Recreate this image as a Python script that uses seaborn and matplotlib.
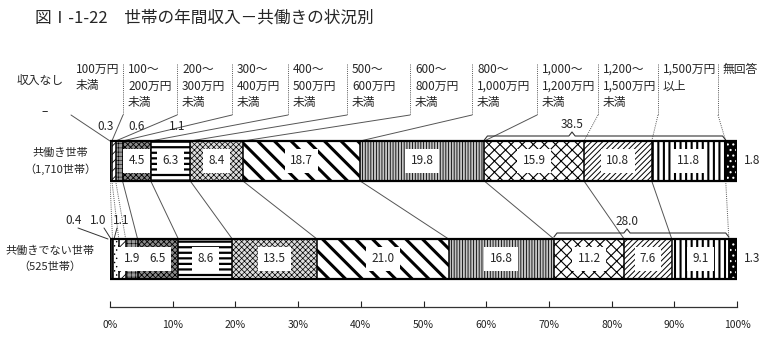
import numpy as np
import pandas as pd
import matplotlib
matplotlib.use("Agg")
import matplotlib.pyplot as plt
import seaborn as sns

# ---- data ----
groups = ["共働き世帯", "共働きでない世帯"]
group_labels = ["共働き世帯\n（1,710世帯）", "共働きでない世帯\n（525世帯）"]
categories = [
    "収入なし", "100万円\n未満", "100〜\n200万円\n未満", "200〜\n300万円\n未満",
    "300〜\n400万円\n未満", "400〜\n500万円\n未満", "500〜\n600万円\n未満",
    "600〜\n800万円\n未満", "800〜\n1,000万円\n未満", "1,000〜\n1,200万円\n未満",
    "1,200〜\n1,500万円\n未満", "1,500万円\n以上", "無回答",
]
dual = [0.0, 0.3, 0.6, 1.1, 4.5, 6.3, 8.4, 18.7, 19.8, 15.9, 10.8, 11.8, 1.8]
single = [0.4, 1.0, 1.1, 1.9, 6.5, 8.6, 13.5, 21.0, 16.8, 11.2, 7.6, 9.1, 1.3]
bracket_totals = [38.5, 28.0]
xticks = list(range(0, 101, 10))
xtick_labels = [f"{t}%" for t in xticks]

# ---- styles per category: face, hatch, hatch linewidth ----
styles = [
    ("#333333", "", 0.5),
    ("white", "....", 0.5),
    ("white", "////", 0.6),
    ("#999999", "++++", 0.4),
    ("#8a8a8a", "xxxxxx", 0.6),
    ("white", "---", 1.6),
    ("#dddddd", "xxxxxx", 0.5),
    ("white", "\\\\", 2.2),
    ("#c4c4c4", "||||||", 0.6),
    ("white", "xxx", 0.8),
    ("white", "//////", 0.7),
    ("white", "|||", 1.5),
    ("black", "...", 0.8),
]

sns.set_theme(style="white")
plt.rcParams["font.family"] = ["Noto Sans CJK JP", "DejaVu Sans"]

W, H = 770, 355
fig = plt.figure(figsize=(W / 100, H / 100), dpi=100)
ax = fig.add_axes([110 / W, (H - 307) / H, 627 / W, (307 - 40) / H])


def X(px):
    return (px - 110) / 6.27


def Y(py):
    return (py - 161) / 98


bar_h = 40 / 98
cum = {groups[0]: np.cumsum(dual), groups[1]: np.cumsum(single)}
df = pd.DataFrame({"group": groups})
for i in range(len(categories)):
    df[f"c{i}"] = [cum[g][i] for g in groups]

# cumulative bars drawn longest first so each shorter one covers the left part
for i in reversed(range(len(categories))):
    n0 = len(ax.patches)
    sns.barplot(data=df, x=f"c{i}", y="group", order=groups, orient="h",
                width=bar_h, color="white", errorbar=None, ax=ax)
    face, hatch, hlw = styles[i]
    for p in ax.patches[n0:]:
        p.set_facecolor(face)
        p.set_hatch(hatch)
        p.set_edgecolor("white" if i == 12 else "black")
        p.set_linewidth(0 if i == 12 else 1.1)
        if hasattr(p, "set_hatch_linewidth"):
            p.set_hatch_linewidth(hlw)

# outer frames
for gi in range(2):
    ax.add_patch(plt.Rectangle((0, gi - bar_h / 2), 100, bar_h, fill=False,
                               edgecolor="black", lw=1.6, zorder=5))
    ax.plot([cum[groups[gi]][11]] * 2, [gi - bar_h / 2, gi + bar_h / 2],
            color="black", lw=1.1, zorder=5)

# value labels
vals = [dual, single]
for gi in range(2):
    c = cum[groups[gi]]
    first = 4 if gi == 0 else 3
    for i in range(first, 12):
        ax.text(c[i] - vals[gi][i] / 2, gi, f"{vals[gi][i]:.1f}", ha="center",
                va="center", fontsize=8.5, zorder=6,
                bbox=dict(boxstyle="square,pad=0.45", fc="white", ec="none"))
    ax.text(X(752), gi, f"{vals[gi][12]:.1f}", ha="center", va="center",
            fontsize=8.5, clip_on=False)

# small values above bars
for i, px in zip([1, 2, 3], [106, 137, 177]):
    ax.text(X(px), Y(126), f"{dual[i]:.1f}", ha="center", va="center",
            fontsize=8.5, clip_on=False)
ax.text(X(45), Y(112), "–", ha="center", va="center", fontsize=8.5)
for i, px in zip([0, 1, 2], [74, 98, 121]):
    ax.text(X(px), Y(221), f"{single[i]:.1f}", ha="center", va="center",
            fontsize=8.5, clip_on=False)
ax.plot([X(78), X(108)], [Y(228), Y(239)], color="#333", lw=0.7, clip_on=False)
ax.plot([X(104), X(111)], [Y(228), Y(239)], color="#333", lw=0.7, clip_on=False)
ax.plot([X(117), X(114)], [Y(228), Y(239)], color="#333", lw=0.7, clip_on=False)

# header labels with leader lines
ax.text(X(40), Y(80), categories[0], ha="center", va="center", fontsize=8.5)
label_left = [None, 76, 128, 182, 237, 293, 352, 415, 477, 542, 603, 663, 723]
for k in range(1, 13):
    lx = label_left[k]
    ax.text(X(lx), Y(63), categories[k], ha="left", va="top", fontsize=8.5,
            linespacing=1.35)
    vx = X(lx - 5)
    ax.plot([vx, vx], [Y(64), Y(115)], color="#555", lw=0.7, ls=(0, (1, 1.2)))
    bx = cum[groups[0]][k - 1]
    ls = "-" if k <= 9 else (0, (1, 1.2))
    ax.plot([vx, bx], [Y(115), -bar_h / 2], color="#555", lw=0.7, ls=ls,
            clip_on=False)

# connecting lines between the two bars
for i in range(13):
    ls = (0, (1, 1.2)) if i in (0, 1, 2, 11, 12) else "-"
    ax.plot([cum[groups[0]][i], cum[groups[1]][i]], [bar_h / 2, 1 - bar_h / 2],
            color="#555", lw=0.7, ls=ls, zorder=1)


# brackets for the 1,000万円以上 share
def bracket(x0, x1, xn, yb, total):
    d = 4 / 98
    xs = [x0, x0 + 0.5, xn - 0.5, xn, xn + 0.5, x1 - 0.5, x1]
    ys = [yb + d, yb, yb, yb - d, yb, yb, yb + d]
    ax.plot(xs, ys, color="#333", lw=0.8, clip_on=False)
    ax.text(xn, yb - d - 1 / 98, f"{total:.1f}", ha="center", va="bottom",
            fontsize=8.5)


bracket(cum[groups[0]][8], cum[groups[0]][11], X(572), Y(136), bracket_totals[0])
bracket(cum[groups[1]][8], cum[groups[1]][11], X(627), Y(233), bracket_totals[1])

# axes
ax.set_xlim(0, 100)
ax.set_ylim(Y(307), Y(40))
ax.set_yticks([])
ax.set_xlabel("")
ax.set_ylabel("")
ax.set_xticks(xticks)
ax.set_xticklabels(xtick_labels)
ax.tick_params(axis="x", direction="in", length=4, width=0.8, labelsize=7.5,
               pad=9, bottom=True, colors="#222")
for s in ["top", "left", "right"]:
    ax.spines[s].set_visible(False)
ax.spines["bottom"].set_color("#333")
ax.spines["bottom"].set_linewidth(0.9)
ax.set_facecolor("none")

for gi in range(2):
    ax.text(X(60 if gi == 0 else 50), gi, group_labels[gi], ha="center",
            va="center", fontsize=8, linespacing=1.6)

fig.text(35 / W, 1 - 18 / H, "図Ⅰ-1-22　世帯の年間収入－共働きの状況別",
         ha="left", va="center", fontsize=12)

fig.savefig("out.png", dpi=100)
